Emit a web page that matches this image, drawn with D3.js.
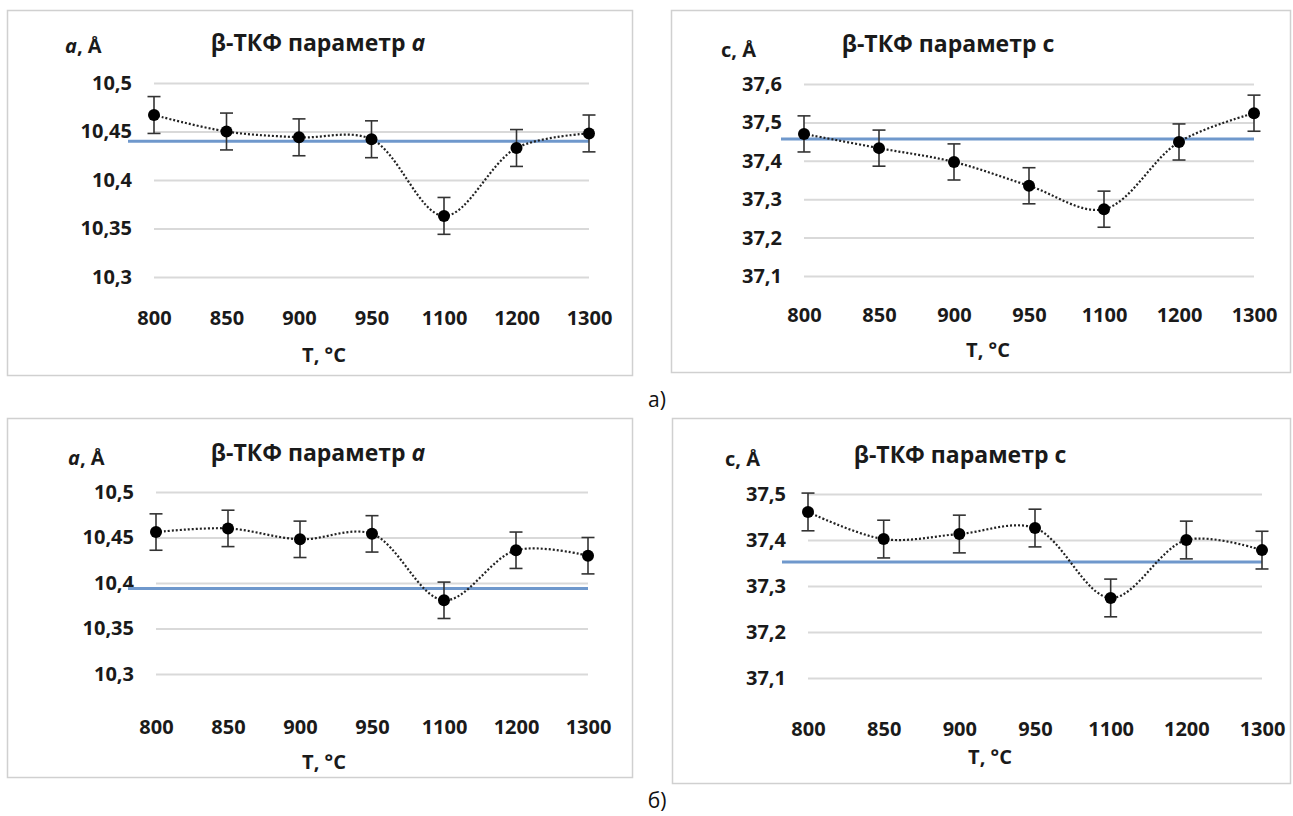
<!DOCTYPE html>
<html><head><meta charset="utf-8">
<script src="https://cdn.jsdelivr.net/npm/d3@7"></script>
<style>
body{margin:0;background:#fff;}
svg{display:block;}
text{font-family:"Open Sans","Noto Sans",sans-serif;}
</style></head>
<body><svg id="c" width="1293" height="816"></svg>
<script>
// ---- data ----
const temps = ["800","850","900","950","1100","1200","1300"];
const aTopValues = [10.467, 10.450, 10.444, 10.442, 10.363, 10.433, 10.448];
const aTopErr = 0.019;
const aTopRef = 10.440;
const cTopValues = [37.470, 37.433, 37.397, 37.335, 37.274, 37.449, 37.524];
const cTopErr = 0.047;
const cTopRef = 37.457;
const aBotValues = [10.456, 10.460, 10.448, 10.454, 10.381, 10.436, 10.430];
const aBotErr = 0.020;
const aBotRef = 10.394;
const cBotValues = [37.461, 37.402, 37.413, 37.426, 37.274, 37.400, 37.378];
const cBotErr = 0.041;
const cBotRef = 37.352;
const aTicks = [10.3, 10.35, 10.4, 10.45, 10.5];
const cTopTicks = [37.1, 37.2, 37.3, 37.4, 37.5, 37.6];
const cBotTicks = [37.1, 37.2, 37.3, 37.4, 37.5];
const xTitle = "T, °C";
const titleMain = "β-ТКФ параметр ";

const loc = d3.formatLocale({decimal:",", thousands:" ", grouping:[3], currency:["",""]});
const fmt = loc.format("~g");

const svg = d3.select("#c");

const panels = [
  {box:[7,10,632,375], xr:[154,589], yd:[10.3,10.5], yr:[277,83], ticks:aTicks, vals:aTopValues, err:aTopErr, ref:aTopRef, refX0:128,
   sym:"a", italic:true, titleX:318, titleY:51, ylX:65, ylY:53, xlabY:318, xtX:324, xtY:362},
  {box:[671,10,1290,372], xr:[804,1254], yd:[37.1,37.6], yr:[276,84], ticks:cTopTicks, vals:cTopValues, err:cTopErr, ref:cTopRef, refX0:781,
   sym:"c", italic:false, titleX:948, titleY:52, ylX:721, ylY:57, xlabY:315, xtX:988, xtY:357},
  {box:[7,418,632,777], xr:[156,588], yd:[10.3,10.5], yr:[674,492], ticks:aTicks, vals:aBotValues, err:aBotErr, ref:aBotRef, refX0:128,
   sym:"a", italic:true, titleX:318, titleY:461, ylX:68, ylY:465, xlabY:727, xtX:324, xtY:769},
  {box:[672,418,1290,783], xr:[808,1262], yd:[37.1,37.5], yr:[678,494], ticks:cBotTicks, vals:cBotValues, err:cBotErr, ref:cBotRef, refX0:782,
   sym:"c", italic:false, titleX:960, titleY:463, ylX:725, ylY:466, xlabY:729, xtX:990, xtY:764}
];

panels.forEach(p => {
  const g = svg.append("g");
  const [bx0,by0,bx1,by1] = p.box;
  g.append("rect").attr("x",bx0+0.5).attr("y",by0+0.5).attr("width",bx1-bx0).attr("height",by1-by0)
    .attr("fill","#fff").attr("stroke","#d0d0d0").attr("stroke-width",1.5);

  const x = d3.scalePoint().domain(temps).range(p.xr);
  const y = d3.scaleLinear().domain(p.yd).range(p.yr);

  // y axis with gridlines
  const ya = g.append("g").attr("transform",`translate(${p.xr[0]},0)`)
    .call(d3.axisLeft(y).tickValues(p.ticks).tickFormat(fmt).tickSizeInner(-(p.xr[1]-p.xr[0])).tickSizeOuter(0).tickPadding(22));
  ya.select(".domain").remove();
  ya.selectAll("line").attr("stroke","#d9d9d9").attr("stroke-width",2);
  ya.selectAll("text").attr("font-size",20).attr("font-weight",700).attr("fill","#1a1a1a")
    .attr("font-family","'Open Sans',sans-serif");

  // x axis
  const xa = g.append("g").attr("transform",`translate(0,${p.xlabY})`)
    .call(d3.axisBottom(x).tickSize(0).tickPadding(0));
  xa.select(".domain").remove();
  xa.selectAll("text").attr("font-size",20).attr("font-weight",700).attr("fill","#1a1a1a")
    .attr("dy","0.35em").attr("font-family","'Open Sans',sans-serif");

  // reference line
  g.append("line").attr("x1",p.refX0).attr("x2",p.xr[1]).attr("y1",y(p.ref)).attr("y2",y(p.ref))
    .attr("stroke","#6f98cc").attr("stroke-width",3);

  // smoothed dotted line
  const line = d3.line().x((d,i)=>x(temps[i])).y(d=>y(d)).curve(d3.curveCatmullRom.alpha(0.5));
  g.append("path").attr("d",line(p.vals)).attr("fill","none").attr("stroke","#222")
    .attr("stroke-width",2.2).attr("stroke-dasharray","2,2");

  // error bars
  const eb = g.append("g").attr("stroke","#333").attr("stroke-width",1.6);
  p.vals.forEach((v,i)=>{
    const cx = x(temps[i]);
    eb.append("line").attr("x1",cx).attr("x2",cx).attr("y1",y(v-p.err)).attr("y2",y(v+p.err));
    eb.append("line").attr("x1",cx-6.5).attr("x2",cx+6.5).attr("y1",y(v-p.err)).attr("y2",y(v-p.err));
    eb.append("line").attr("x1",cx-6.5).attr("x2",cx+6.5).attr("y1",y(v+p.err)).attr("y2",y(v+p.err));
  });

  // markers
  g.append("g").selectAll("circle").data(p.vals).join("circle")
    .attr("cx",(d,i)=>x(temps[i])).attr("cy",d=>y(d)).attr("r",6).attr("fill","#000");

  // title
  const t = g.append("text").attr("x",p.titleX).attr("y",p.titleY).attr("text-anchor","middle")
    .attr("font-size",23).attr("font-weight",700).attr("fill","#1a1a1a");
  t.append("tspan").text(titleMain);
  t.append("tspan").text(p.sym).attr("font-style",p.italic?"italic":"normal");

  // y axis label
  const yl = g.append("text").attr("x",p.ylX).attr("y",p.ylY)
    .attr("font-size",20).attr("font-weight",700).attr("fill","#1a1a1a");
  yl.append("tspan").text(p.sym).attr("font-style",p.italic?"italic":"normal");
  yl.append("tspan").text(", Å");

  // x axis title
  g.append("text").attr("x",p.xtX).attr("y",p.xtY).attr("text-anchor","middle")
    .attr("font-size",20).attr("font-weight",700).attr("fill","#1a1a1a").text(xTitle);
});

svg.append("text").attr("x",657).attr("y",407).attr("text-anchor","middle")
  .attr("font-size",21).attr("fill","#111").text("а)");
svg.append("text").attr("x",657).attr("y",808).attr("text-anchor","middle")
  .attr("font-size",21).attr("fill","#111").text("б)");
</script></body></html>
